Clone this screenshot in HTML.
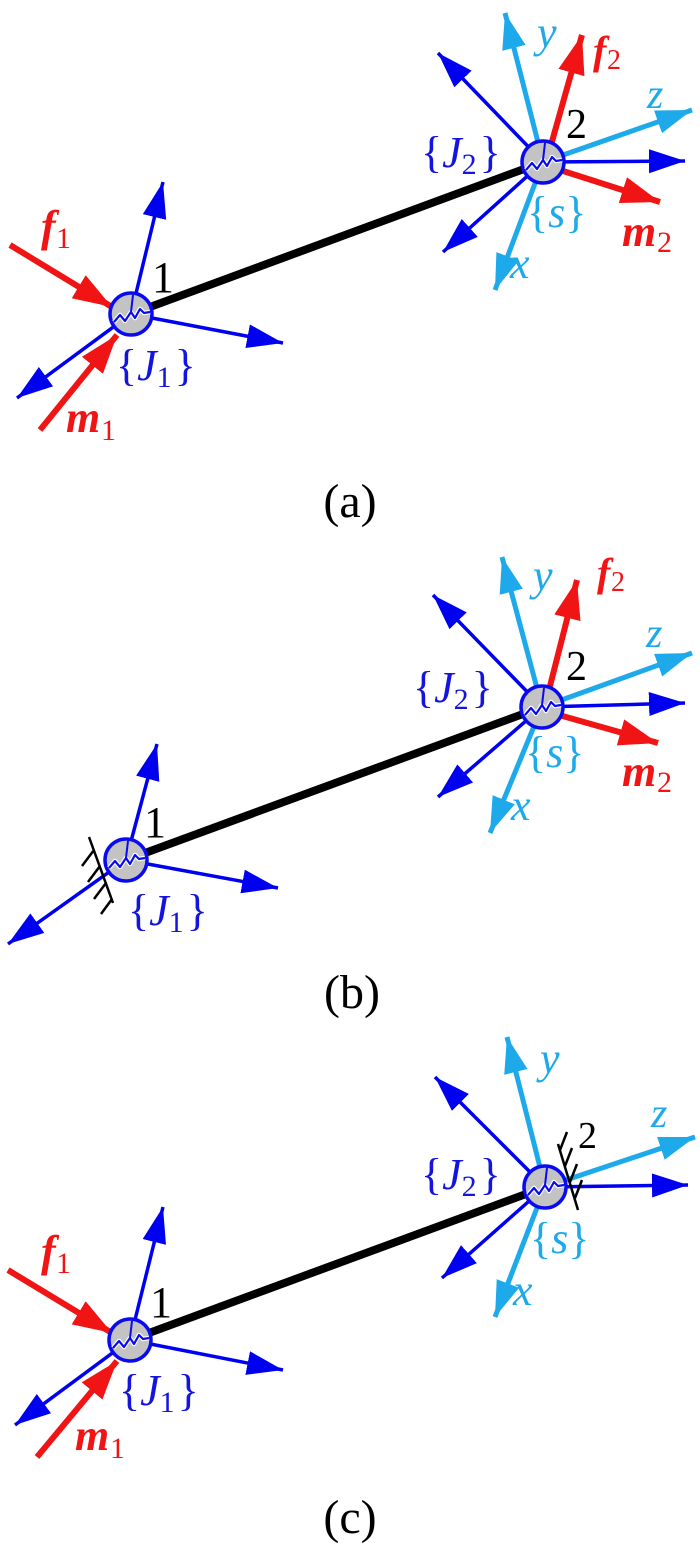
<!DOCTYPE html>
<html>
<head>
<meta charset="utf-8">
<style>
html,body{margin:0;padding:0;background:#fff;}
svg{display:block;}
text{font-family:"Liberation Serif","DejaVu Serif",serif;}
</style>
</head>
<body>
<svg width="700" height="1547" viewBox="0 0 700 1547" xmlns="http://www.w3.org/2000/svg" font-family="Liberation Serif, DejaVu Serif, serif">
<defs>
  <marker id="mb" markerUnits="userSpaceOnUse" markerWidth="44" markerHeight="30" refX="36" refY="12" orient="auto">
    <path d="M0,0 L36,12 L0,24 Z" fill="#0000f0"/>
  </marker>
  <marker id="mc" markerUnits="userSpaceOnUse" markerWidth="44" markerHeight="30" refX="36" refY="12" orient="auto">
    <path d="M0,0 L36,12 L0,24 Z" fill="#1eaaea"/>
  </marker>
  <marker id="mr" markerUnits="userSpaceOnUse" markerWidth="46" markerHeight="32" refX="39" refY="13.5" orient="auto">
    <path d="M0,0 L39,13.5 L0,27 Z" fill="#f01414"/>
  </marker>
  <g id="node">
    <circle cx="0" cy="0" r="21" fill="#c3c3c3" stroke="#0a0af0" stroke-width="3.5"/>
    <path d="M-17,8 L-11,1 L-6,7 L0,-2 L4,4 L9,-5 L13,-1 L19,-2" fill="none" stroke="#fff" stroke-width="4.5" stroke-linejoin="round"/>
    <path d="M-17,8 L-11,1 L-6,7 L0,-2 L4,4 L9,-5 L13,-1 L19,-2" fill="none" stroke="#0a0af0" stroke-width="2.2" stroke-linejoin="round"/>
    <path d="M0,-2 L2,-19" fill="none" stroke="#0a0af0" stroke-width="2"/>
  </g>
</defs>

<!-- ================= (a) ================= -->
<line x1="131" y1="314" x2="543" y2="162" stroke="#000" stroke-width="8"/>
<g stroke="#0000f0" stroke-width="3.5" fill="none">
  <line x1="131" y1="314" x2="163" y2="182" marker-end="url(#mb)"/>
  <line x1="131" y1="314" x2="283" y2="343" marker-end="url(#mb)"/>
  <line x1="131" y1="314" x2="17" y2="398" marker-end="url(#mb)"/>
</g>
<g stroke="#f01414" stroke-width="6" fill="none">
  <line x1="10" y1="245" x2="112" y2="307" marker-end="url(#mr)"/>
  <line x1="40" y1="430" x2="117" y2="335" marker-end="url(#mr)"/>
</g>
<use href="#node" x="131" y="314"/>
<g stroke="#1eaaea" stroke-width="5" fill="none">
  <line x1="543" y1="162" x2="505" y2="13" marker-end="url(#mc)"/>
  <line x1="543" y1="162" x2="692" y2="110" marker-end="url(#mc)"/>
  <line x1="543" y1="162" x2="495" y2="290" marker-end="url(#mc)"/>
</g>
<g stroke="#0000f0" stroke-width="3.5" fill="none">
  <line x1="543" y1="162" x2="438" y2="53" marker-end="url(#mb)"/>
  <line x1="543" y1="162" x2="685" y2="161" marker-end="url(#mb)"/>
  <line x1="543" y1="162" x2="443" y2="252" marker-end="url(#mb)"/>
</g>
<g stroke="#f01414" stroke-width="6" fill="none">
  <line x1="551" y1="145" x2="582" y2="35" marker-end="url(#mr)"/>
  <line x1="560" y1="170" x2="660" y2="202" marker-end="url(#mr)"/>
</g>
<use href="#node" x="543" y="162"/>
<text x="41" y="241" font-size="44" font-weight="bold" font-style="italic" fill="#f01414">f</text>
<text x="56" y="248" font-size="30" fill="#f01414">1</text>
<text x="152" y="292" font-size="44" fill="#000">1</text>
<text x="116" y="380" font-size="44" fill="#1414e0">{<tspan font-style="italic">J</tspan><tspan font-size="30" dy="7">1</tspan><tspan dy="-7" dx="3">}</tspan></text>
<text x="66" y="432" font-size="44" font-weight="bold" font-style="italic" fill="#f01414">m</text>
<text x="101" y="440" font-size="30" fill="#f01414">1</text>
<text x="537" y="47" font-size="44" font-style="italic" fill="#1eaaea">y</text>
<text x="593" y="64" font-size="40" font-weight="bold" font-style="italic" fill="#f01414">f</text>
<text x="607" y="69" font-size="28" fill="#f01414">2</text>
<text x="647" y="108" font-size="42" font-style="italic" fill="#1eaaea">z</text>
<text x="566" y="138" font-size="42" fill="#000">2</text>
<text x="421" y="167" font-size="44" fill="#1414e0">{<tspan font-style="italic">J</tspan><tspan font-size="30" dy="7">2</tspan><tspan dy="-7" dx="3">}</tspan></text>
<text x="527" y="227" font-size="44" fill="#1eaaea">{<tspan font-style="italic">s</tspan>}</text>
<text x="622" y="246" font-size="44" font-weight="bold" font-style="italic" fill="#f01414">m</text>
<text x="657" y="252" font-size="30" fill="#f01414">2</text>
<text x="510" y="278" font-size="44" font-style="italic" fill="#1eaaea">x</text>
<text x="350" y="517" font-size="48" text-anchor="middle" fill="#000">(a)</text>

<!-- ================= (b) ================= -->
<line x1="126" y1="860" x2="542" y2="707" stroke="#000" stroke-width="8"/>
<g stroke="#0000f0" stroke-width="3.5" fill="none">
  <line x1="126" y1="860" x2="157" y2="744" marker-end="url(#mb)"/>
  <line x1="126" y1="860" x2="278" y2="888" marker-end="url(#mb)"/>
  <line x1="126" y1="860" x2="8" y2="944" marker-end="url(#mb)"/>
</g>
<use href="#node" x="126" y="860"/>
<g stroke="#000" stroke-width="2.5" fill="none">
  <line x1="89" y1="837" x2="113" y2="903"/>
  <line x1="94" y1="850" x2="82" y2="866"/>
  <line x1="100" y1="866" x2="88" y2="882"/>
  <line x1="106" y1="883" x2="94" y2="899"/>
  <line x1="112" y1="899" x2="101" y2="914"/>
</g>
<g stroke="#1eaaea" stroke-width="5" fill="none">
  <line x1="542" y1="707" x2="502" y2="557" marker-end="url(#mc)"/>
  <line x1="542" y1="707" x2="692" y2="653" marker-end="url(#mc)"/>
  <line x1="542" y1="707" x2="490" y2="833" marker-end="url(#mc)"/>
</g>
<g stroke="#0000f0" stroke-width="3.5" fill="none">
  <line x1="542" y1="707" x2="433" y2="595" marker-end="url(#mb)"/>
  <line x1="542" y1="707" x2="685" y2="703" marker-end="url(#mb)"/>
  <line x1="542" y1="707" x2="438" y2="797" marker-end="url(#mb)"/>
</g>
<g stroke="#f01414" stroke-width="6" fill="none">
  <line x1="549" y1="690" x2="577" y2="580" marker-end="url(#mr)"/>
  <line x1="559" y1="715" x2="658" y2="743" marker-end="url(#mr)"/>
</g>
<use href="#node" x="542" y="707"/>
<text x="144" y="837" font-size="44" fill="#000">1</text>
<text x="128" y="925" font-size="44" fill="#1414e0">{<tspan font-style="italic">J</tspan><tspan font-size="30" dy="7">1</tspan><tspan dy="-7" dx="3">}</tspan></text>
<text x="533" y="590" font-size="44" font-style="italic" fill="#1eaaea">y</text>
<text x="597" y="586" font-size="40" font-weight="bold" font-style="italic" fill="#f01414">f</text>
<text x="611" y="591" font-size="28" fill="#f01414">2</text>
<text x="646" y="647" font-size="42" font-style="italic" fill="#1eaaea">z</text>
<text x="566" y="680" font-size="42" fill="#000">2</text>
<text x="413" y="702" font-size="44" fill="#1414e0">{<tspan font-style="italic">J</tspan><tspan font-size="30" dy="7">2</tspan><tspan dy="-7" dx="3">}</tspan></text>
<text x="525" y="767" font-size="44" fill="#1eaaea">{<tspan font-style="italic">s</tspan>}</text>
<text x="622" y="786" font-size="44" font-weight="bold" font-style="italic" fill="#f01414">m</text>
<text x="657" y="792" font-size="30" fill="#f01414">2</text>
<text x="511" y="820" font-size="44" font-style="italic" fill="#1eaaea">x</text>
<text x="352" y="1008" font-size="48" text-anchor="middle" fill="#000">(b)</text>

<!-- ================= (c) ================= -->
<line x1="130" y1="1340" x2="545" y2="1187" stroke="#000" stroke-width="8"/>
<g stroke="#0000f0" stroke-width="3.5" fill="none">
  <line x1="130" y1="1340" x2="163" y2="1207" marker-end="url(#mb)"/>
  <line x1="130" y1="1340" x2="283" y2="1370" marker-end="url(#mb)"/>
  <line x1="130" y1="1340" x2="15" y2="1425" marker-end="url(#mb)"/>
</g>
<g stroke="#f01414" stroke-width="6" fill="none">
  <line x1="8" y1="1270" x2="112" y2="1333" marker-end="url(#mr)"/>
  <line x1="37" y1="1457" x2="117" y2="1361" marker-end="url(#mr)"/>
</g>
<use href="#node" x="130" y="1340"/>
<g stroke="#1eaaea" stroke-width="5" fill="none">
  <line x1="545" y1="1187" x2="507" y2="1037" marker-end="url(#mc)"/>
  <line x1="545" y1="1187" x2="695" y2="1137" marker-end="url(#mc)"/>
  <line x1="545" y1="1187" x2="495" y2="1317" marker-end="url(#mc)"/>
</g>
<g stroke="#0000f0" stroke-width="3.5" fill="none">
  <line x1="545" y1="1187" x2="435" y2="1077" marker-end="url(#mb)"/>
  <line x1="545" y1="1187" x2="688" y2="1185" marker-end="url(#mb)"/>
  <line x1="545" y1="1187" x2="442" y2="1278" marker-end="url(#mb)"/>
</g>
<use href="#node" x="545" y="1187"/>
<g stroke="#000" stroke-width="2.5" fill="none">
  <line x1="558" y1="1144" x2="578" y2="1210"/>
  <line x1="560" y1="1150" x2="567" y2="1132"/>
  <line x1="565" y1="1166" x2="572" y2="1148"/>
  <line x1="570" y1="1182" x2="577" y2="1164"/>
  <line x1="575" y1="1198" x2="582" y2="1180"/>
</g>
<text x="41" y="1266" font-size="44" font-weight="bold" font-style="italic" fill="#f01414">f</text>
<text x="56" y="1273" font-size="30" fill="#f01414">1</text>
<text x="150" y="1317" font-size="44" fill="#000">1</text>
<text x="119" y="1405" font-size="44" fill="#1414e0">{<tspan font-style="italic">J</tspan><tspan font-size="30" dy="7">1</tspan><tspan dy="-7" dx="3">}</tspan></text>
<text x="75" y="1450" font-size="44" font-weight="bold" font-style="italic" fill="#f01414">m</text>
<text x="110" y="1458" font-size="30" fill="#f01414">1</text>
<text x="540" y="1073" font-size="44" font-style="italic" fill="#1eaaea">y</text>
<text x="651" y="1127" font-size="42" font-style="italic" fill="#1eaaea">z</text>
<text x="578" y="1148" font-size="38" fill="#000">2</text>
<text x="421" y="1189" font-size="44" fill="#1414e0">{<tspan font-style="italic">J</tspan><tspan font-size="30" dy="7">2</tspan><tspan dy="-7" dx="3">}</tspan></text>
<text x="530" y="1253" font-size="44" fill="#1eaaea">{<tspan font-style="italic">s</tspan>}</text>
<text x="513" y="1305" font-size="44" font-style="italic" fill="#1eaaea">x</text>
<text x="350" y="1533" font-size="48" text-anchor="middle" fill="#000">(c)</text>
</svg>
</body>
</html>
